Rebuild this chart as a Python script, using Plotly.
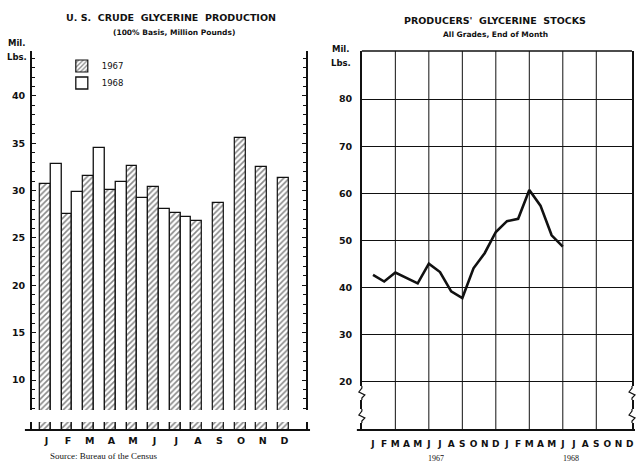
import plotly.graph_objects as go

W, H = 637, 464

months = ["J", "F", "M", "A", "M", "J", "J", "A", "S", "O", "N", "D"]
prod_1967 = [30.7, 27.5, 31.5, 30.1, 32.6, 30.4, 27.6, 26.8, 28.7, 35.6, 32.5, 31.3]
prod_1968 = [32.8, 29.9, 34.5, 30.9, 29.2, 28.1, 27.2]
left_yticks = [10, 15, 20, 25, 30, 35, 40]

stock_labels = months + months
stocks = [42.7, 41.3, 43.2, 42.0, 40.9, 45.1, 43.3, 39.2, 37.8, 44.1, 47.3, 51.8,
          54.1, 54.6, 60.7, 57.4, 51.1, 48.7]
right_yticks = [20, 30, 40, 50, 60, 70, 80]


def px(x):
    return x / W


def py(y):
    return 1 - y / H


FONT = "DejaVu Sans"
BLACK = "#111111"

fig = go.Figure()

fig.add_trace(go.Bar(
    x=list(range(len(prod_1967))), y=prod_1967, name="1967", legend="legend",
    marker=dict(color="white", line=dict(color=BLACK, width=1.2),
                pattern=dict(shape="/", fgcolor=BLACK, bgcolor="white", size=4, solidity=0.4)),
    xaxis="x", yaxis="y",
))
fig.add_trace(go.Bar(
    x=list(range(len(prod_1968))), y=prod_1968, name="1968", legend="legend2",
    marker=dict(color="white", line=dict(color=BLACK, width=1.3)),
    xaxis="x", yaxis="y",
))

fig.add_trace(go.Scatter(
    x=list(range(len(stocks))), y=stocks, mode="lines",
    line=dict(color=BLACK, width=2.6), showlegend=False,
    xaxis="x2", yaxis="y2",
))

ydom = [py(430), py(51)]

tickfont = dict(family=FONT, size=9.5, color=BLACK)
legfont = dict(family=FONT, size=8.5, color=BLACK)

fig.update_layout(
    width=W, height=H,
    margin=dict(l=0, r=0, t=0, b=0),
    paper_bgcolor="white", plot_bgcolor="white",
    barmode="group", bargap=0, bargroupgap=0,
    showlegend=True,
    legend=dict(x=px(62), y=py(66), xanchor="left", yanchor="middle",
                font=legfont, bgcolor="rgba(0,0,0,0)", itemwidth=30),
    legend2=dict(x=px(62), y=py(83), xanchor="left", yanchor="middle",
                 font=legfont, bgcolor="rgba(0,0,0,0)", itemwidth=30),
    xaxis=dict(domain=[px(32), px(307)], range=[-0.87, 11.8], anchor="y",
               tickmode="array", tickvals=[i - 0.2 for i in range(12)], ticktext=[f"<b>{m}</b>" for m in months],
               ticks="", showline=False, showgrid=False, zeroline=False,
               tickfont=tickfont, ticklabelstandoff=3, fixedrange=True),
    yaxis=dict(domain=ydom, range=[4.72, 44.75], anchor="x",
               tickmode="array", tickvals=left_yticks, ticktext=[f"<b>{v}</b>" for v in left_yticks],
               ticks="inside", ticklen=4, tickcolor=BLACK, tickwidth=1,
               minor=dict(tickmode="array", tickvals=list(range(7, 45)), ticks="inside", ticklen=3,
                          tickcolor=BLACK, tickwidth=1, showgrid=False),
               showline=True, linecolor=BLACK, linewidth=1.5, mirror="allticks",
               showgrid=False, zeroline=False, tickfont=tickfont, ticklabelstandoff=3, fixedrange=True),
    xaxis2=dict(domain=[px(363), px(634)], range=[-1, 23.2], anchor="y2",
                tickmode="array", tickvals=list(range(24)), ticktext=[f"<b>{m}</b>" for m in stock_labels],
                ticks="", showline=False, zeroline=False,
                showgrid=False, tickfont=dict(family=FONT, size=9, color=BLACK),
                ticklabelstandoff=7, fixedrange=True),
    yaxis2=dict(domain=ydom, range=[9.8, 90.2], anchor="x2",
                tickmode="array", tickvals=right_yticks, ticktext=[f"<b>{v}</b>" for v in right_yticks],
                ticks="", showline=True, linecolor=BLACK, linewidth=1.5, mirror=True,
                showgrid=True, gridcolor=BLACK, gridwidth=1.3, zeroline=False,
                tickfont=tickfont, ticklabelstandoff=6, fixedrange=True),
)

shapes = []
# vertical grid lines on right chart (every 3 months)
for g in range(2, 23, 3):
    shapes.append(dict(type="line", xref="x2", yref="y2 domain", x0=g, x1=g, y0=0, y1=1,
                       line=dict(color=BLACK, width=1), layer="below"))
# top border of right chart
shapes.append(dict(type="line", xref="x2 domain", yref="y2 domain", x0=0, x1=1, y0=1, y1=1,
                   line=dict(color=BLACK, width=1.5), layer="above"))
# break gap on left chart
shapes.append(dict(type="rect", xref="paper", yref="y", x0=px(20), x1=px(316), y0=5.56, y1=6.83,
                   fillcolor="white", line=dict(width=0), layer="above"))
# baselines
shapes.append(dict(type="line", xref="paper", yref="paper", x0=px(25), x1=px(311), y0=py(430), y1=py(430),
                   line=dict(color=BLACK, width=2.2), layer="above"))
shapes.append(dict(type="line", xref="paper", yref="paper", x0=px(358), x1=px(637), y0=py(430), y1=py(430),
                   line=dict(color=BLACK, width=2.2), layer="above"))
# zigzag break marks on right chart sides
for xe in (363, 634):
    for y0 in (386, 409):
        shapes.append(dict(type="rect", xref="paper", yref="paper", x0=px(xe - 2), x1=px(xe + 2),
                           y0=py(y0 + 14), y1=py(y0), fillcolor="white", line=dict(width=0), layer="above"))
        path = (f"M {px(xe)},{py(y0)} L {px(xe)},{py(y0 + 2)} L {px(xe - 3)},{py(y0 + 6)} "
                f"L {px(xe + 3)},{py(y0 + 9)} L {px(xe)},{py(y0 + 12)} L {px(xe)},{py(y0 + 14)}")
        shapes.append(dict(type="path", xref="paper", yref="paper", path=path,
                           line=dict(color=BLACK, width=1.2), layer="above"))
fig.update_layout(shapes=shapes)

ann = [
    dict(text="<b>U. S.  CRUDE  GLYCERINE  PRODUCTION</b>", x=px(172), y=py(17), size=9.5, family=FONT),
    dict(text="<b>(100% Basis, Million Pounds)</b>", x=px(175), y=py(32), size=7.5, family=FONT),
    dict(text="<b>Mil.</b>", x=px(17), y=py(43), size=8.5, family=FONT),
    dict(text="<b>Lbs.</b>", x=px(17), y=py(57), size=8.5, family=FONT),
    dict(text="<b>PRODUCERS'  GLYCERINE  STOCKS</b>", x=px(497), y=py(20), size=9.5, family=FONT),
    dict(text="<b>All Grades, End of Month</b>", x=px(497), y=py(34), size=7.5, family=FONT),
    dict(text="<b>Mil.</b>", x=px(342), y=py(49), size=8.5, family=FONT),
    dict(text="<b>Lbs.</b>", x=px(342), y=py(63), size=8.5, family=FONT),
    dict(text="1967", x=px(437), y=py(458), size=8, family="Liberation Serif"),
    dict(text="1968", x=px(573), y=py(458), size=8, family="Liberation Serif"),
]
for a in ann:
    fig.add_annotation(text=a["text"], x=a["x"], y=a["y"], xref="paper", yref="paper",
                       showarrow=False, xanchor="center", yanchor="middle",
                       font=dict(family=a["family"], size=a["size"], color=BLACK))
fig.add_annotation(text="Source: Bureau of the Census", x=px(48), y=py(456), xref="paper", yref="paper",
                   showarrow=False, xanchor="left", yanchor="middle",
                   font=dict(family="Liberation Serif", size=9, color=BLACK))

fig.write_html("out.html", config={"displayModeBar": False},
               post_script="document.body.style.margin='0px';document.body.style.overflow='hidden';")
